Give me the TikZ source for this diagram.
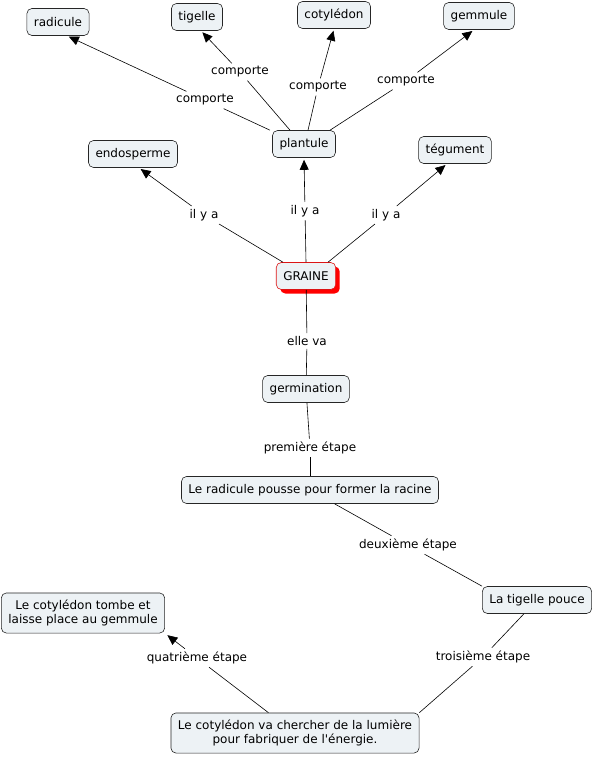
\documentclass[tikz,border=0pt]{standalone}
\usepackage{fontspec}
\setmainfont{DejaVu Sans}[Ligatures=TeXOff]
\usetikzlibrary{arrows.meta,shadows}
\definecolor{boxfill}{RGB}{237,242,245}
\definecolor{redline}{RGB}{220,20,20}
\begin{document}
\begin{tikzpicture}[x=1pt,y=-1pt,
  concept/.style={draw=black!85, fill=boxfill, rounded corners=5pt, inner xsep=7pt, inner ysep=4pt,
    minimum height=27pt, font=\fontsize{12}{14}\selectfont, align=center, line width=0.6pt},
  twoline/.style={inner ysep=7pt},
  lbl/.style={inner sep=3pt, font=\fontsize{12}{14}\selectfont},
  link/.style={line width=0.6pt, draw=black},
  arr/.style={link, -{Triangle[length=10pt,width=9pt]}, shorten >=2pt}]
\useasboundingbox (0,0) rectangle (594,757);

% concepts
\node[concept] (radicule) at (58,22) {radicule};
\node[concept] (tigelle) at (197,17) {tigelle};
\node[concept] (cotyledon) at (334,15) {cotylédon};
\node[concept] (gemmule) at (479,16) {gemmule};
\node[concept] (endosperme) at (133,154) {endosperme};
\node[concept] (plantule) at (304,144) {plantule};
\node[concept] (tegument) at (455,150) {tégument};
\node[concept, draw=redline, drop shadow={shadow xshift=4pt, shadow yshift=-4pt, fill=red, opacity=1}] (graine) at (306,276) {GRAINE};
\node[concept] (germination) at (306,389) {germination};
\node[concept] (radpousse) at (310,490) {Le radicule pousse pour former la racine};
\node[concept] (tigpouce) at (537,600) {La tigelle pouce};
\node[concept, twoline] (cottombe) at (83,613) {Le cotylédon tombe et\\laisse place au gemmule};
\node[concept, twoline] (cotlum) at (295,733) {Le cotylédon va chercher de la lumière\\pour fabriquer de l'énergie.};

% labels
\node[lbl] (l1) at (205,100) {comporte};
\node[lbl] (l2) at (240,72) {comporte};
\node[lbl] (l3) at (318,87) {comporte};
\node[lbl] (l4) at (406,81) {comporte};
\node[lbl] (l5) at (204,215) {il y a};
\node[lbl] (l6) at (305,211) {il y a};
\node[lbl] (l7) at (386,215) {il y a};
\node[lbl] (l8) at (307,341) {elle va};
\node[lbl] (l9) at (310,448) {première étape};
\node[lbl] (l10) at (408,545) {deuxième étape};
\node[lbl] (l11) at (483,657) {troisième étape};
\node[lbl] (l12) at (197,658) {quatrième étape};

% connectors
\draw[link] ([xshift=-34pt]plantule.north) -- (l1);
\draw[arr] (l1) -- ([xshift=9pt]radicule.south);
\draw[link] ([xshift=-14pt]plantule.north) -- (l2);
\draw[arr] (l2) -- ([xshift=4pt]tigelle.south);
\draw[link] ([xshift=4pt]plantule.north) -- (l3);
\draw[arr] (l3) -- (cotyledon.south);
\draw[link] ([xshift=26pt]plantule.north) -- (l4);
\draw[arr] (l4) -- ([xshift=-5pt]gemmule.south);
\draw[link] ([xshift=-23pt]graine.north) -- (l5);
\draw[arr] (l5) -- ([xshift=6pt]endosperme.south);
\draw[link] (graine.north) -- (l6);
\draw[arr] (l6) -- (plantule.south);
\draw[link] ([xshift=22pt]graine.north) -- (l7);
\draw[arr] (l7) -- ([xshift=-8pt]tegument.south);
\draw[link] (graine) -- (l8);
\draw[link] (l8) -- (germination);
\draw[link] (germination) -- (l9);
\draw[link] (l9) -- (radpousse);
\draw[link] (radpousse) -- (l10);
\draw[link] (l10) -- (tigpouce.north west);
\draw[link] (tigpouce) -- (l11);
\draw[link] (l11) -- (cotlum.north east);
\draw[link] (cotlum) -- (l12);
\draw[arr, shorten >=3pt] (l12) -- (cottombe.south east);
\end{tikzpicture}
\end{document}
